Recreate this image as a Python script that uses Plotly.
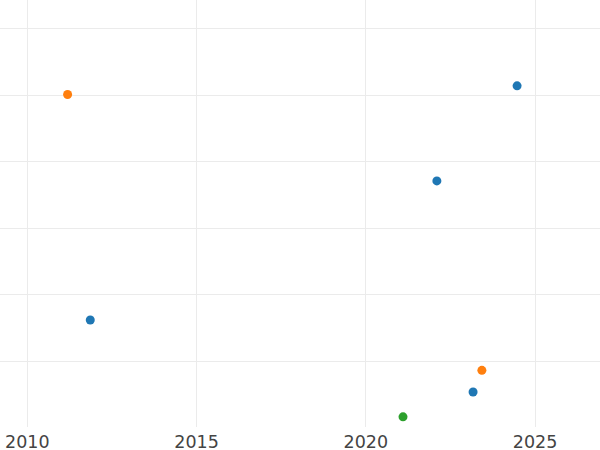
import plotly.graph_objects as go

# Points per series (year, value)
blue_x = [2024.47, 2022.10, 2011.86, 2023.17]
blue_y = [4.14, 2.71, 0.617, -0.466]

orange_x = [2011.19, 2023.43]
orange_y = [4.01, -0.14]

green_x = [2021.10]
green_y = [-0.84]

fig = go.Figure()
fig.add_trace(go.Scatter(x=blue_x, y=blue_y, mode='markers',
                         marker=dict(color='#1f77b4', size=9), name='A'))
fig.add_trace(go.Scatter(x=orange_x, y=orange_y, mode='markers',
                         marker=dict(color='#ff7f0e', size=9), name='B'))
fig.add_trace(go.Scatter(x=green_x, y=green_y, mode='markers',
                         marker=dict(color='#2ca02c', size=9), name='C'))

fig.update_layout(
    width=600, height=450,
    margin=dict(l=0, r=0, t=0, b=23, autoexpand=False),
    plot_bgcolor='white',
    paper_bgcolor='white',
    showlegend=False,
    font=dict(family='DejaVu Sans', size=17.5, color='#444'),
    xaxis=dict(range=[2009.193, 2026.92], dtick=5, tick0=2010,
               showgrid=True, gridcolor='#ebebeb', zeroline=False,
               showline=False, ticks='', ticklabelstandoff=2),
    yaxis=dict(range=[-0.993, 5.432], dtick=1, tick0=0,
               showgrid=True, gridcolor='#ebebeb', zeroline=False,
               showticklabels=False, showline=False, ticks=''),
)

# the chart fills the window edge to edge, so drop the page's default body margin
fig.write_html("out.html", config={'displayModeBar': False},
               post_script="document.body.style.margin='0';document.body.style.overflow='hidden';")
